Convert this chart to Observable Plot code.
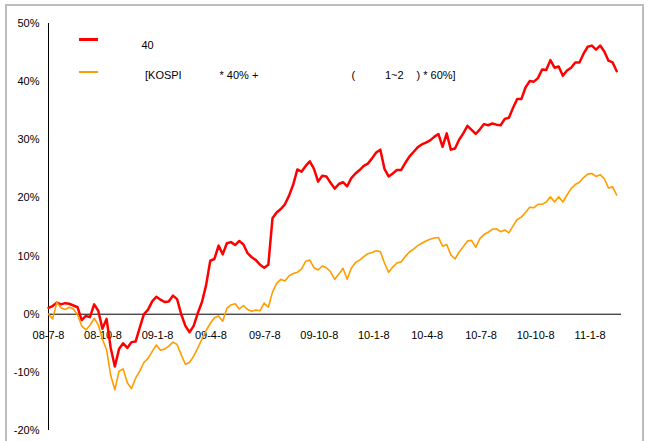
<!DOCTYPE html>
<html>
<head>
<meta charset="utf-8">
<script src="https://cdn.jsdelivr.net/npm/d3@7"></script>
<script src="https://cdn.jsdelivr.net/npm/@observablehq/plot@0.6"></script>
<style>
  html, body { margin: 0; padding: 0; background: #fff; }
  #wrap { position: relative; width: 651px; height: 441px; overflow: hidden; font-family: "Liberation Sans", Arial, sans-serif; }
  #frame { position: absolute; left: 5px; top: 4px; width: 639px; height: 460px; border: 2px solid #bdbdbd; box-sizing: border-box; }
  #chart { position: absolute; left: 0; top: 0; }
  .leg { position: absolute; font-size: 11px; line-height: 13px; color: #000; white-space: pre; }
  .sw { position: absolute; }
</style>
</head>
<body>
<div id="wrap">
  <div id="frame"></div>
  <div id="chart"></div>
</div>
<script>
// Weekly observations starting 2008-07-08 (cumulative return, %)
const startDate = "2008-07-08";
const endDate = "2011-03-02";

const fundReturn = [
  1.1, 1.4, 2.0, 1.7, 1.9, 1.8, 1.5, 1.2, -1.0, -0.3,
  -0.5, 1.7, 0.6, -2.5, -0.8, -5.8, -9.0, -6.0, -5.0, -5.8,
  -4.8, -4.7, -2.3, 0.0, 0.8, 2.2, 3.0, 2.5, 2.1, 2.2,
  3.2, 2.6, 0.0, -2.0, -3.1, -2.0, 0.2, 2.1, 5.0, 9.2,
  9.5, 11.8, 10.3, 12.2, 12.4, 11.9, 12.6, 12.0, 10.5, 9.8,
  9.3, 8.5, 8.0, 8.5, 16.5, 17.5, 18.1, 18.9, 20.4, 22.3,
  24.9, 24.5, 25.5, 26.3, 25.0, 22.8, 23.8, 23.7, 22.6, 21.6,
  22.4, 22.7, 22.0, 23.4, 24.2, 24.8, 25.5, 25.9, 26.8, 27.8,
  28.3, 25.0, 23.7, 24.2, 24.8, 24.8, 26.0, 27.1, 27.9, 28.7,
  29.2, 29.5, 29.9, 30.5, 31.0, 28.8, 31.1, 28.3, 28.5, 30.0,
  31.1, 32.4, 31.7, 31.0, 31.8, 32.7, 32.5, 32.8, 32.6, 32.5,
  33.6, 33.8, 35.5, 37.0, 37.0, 39.0, 40.1, 40.0, 40.6, 42.1,
  42.0, 43.7, 42.4, 42.6, 41.0, 41.9, 42.4, 43.3, 43.3, 44.8,
  46.0, 46.2, 45.5, 46.2, 45.2, 43.6, 43.3, 41.8
];

const benchReturn = [
  0.0, -0.8, 2.0, 1.1, 0.8, 1.2, 0.9, -0.1, -2.0, -2.7,
  -1.9, -0.7, -1.8, -4.3, -6.1, -10.5, -13.0, -9.8, -9.4, -11.8,
  -12.8, -11.0, -9.8, -8.3, -7.6, -6.4, -5.3, -6.2, -6.0, -5.5,
  -4.8, -5.2, -7.0, -8.6, -8.3, -7.2, -5.8, -4.3, -2.8, -1.6,
  -0.6, -0.3, -1.2, 1.0, 1.6, 1.8, 0.9, 1.5, 0.8, 0.5,
  0.7, 0.6, 1.9, 1.2, 3.8, 5.3, 6.0, 5.7, 6.6, 7.0,
  7.2, 7.8, 9.1, 9.3, 8.0, 7.6, 8.3, 8.0, 7.3, 6.0,
  6.9, 7.9, 6.0, 7.9, 8.9, 9.3, 9.9, 10.4, 10.6, 10.9,
  10.8, 8.8, 7.2, 8.1, 8.8, 9.0, 9.9, 10.7, 11.2, 11.8,
  12.2, 12.6, 12.9, 13.1, 13.2, 11.7, 12.0, 10.2, 9.5, 10.7,
  11.6, 12.6, 12.7, 11.5, 13.0, 13.7, 14.1, 14.6, 14.7, 14.2,
  14.5, 14.0, 15.2, 16.3, 16.7, 17.5, 18.4, 18.3, 18.9, 18.9,
  19.3, 20.2, 19.3, 20.2, 19.3, 20.5, 21.6, 22.3, 22.7, 23.5,
  24.1, 24.2, 23.7, 24.0, 23.3, 21.7, 21.9, 20.5
];

const xTickDates = ["2008-07-08","2008-10-08","2009-01-08","2009-04-08","2009-07-08","2009-10-08","2010-01-08","2010-04-08","2010-07-08","2010-10-08","2011-01-08"];
const xTickLabels = ["08-7-8","08-10-8","09-1-8","09-4-8","09-7-8","09-10-8","10-1-8","10-4-8","10-7-8","10-10-8","11-1-8"];
const yTicks = [-20, -10, 0, 10, 20, 30, 40, 50];

const seriesColors = { fund: "#ff0000", bench: "#ff9c00" };

const t0 = new Date(startDate);
const weekDate = i => d3.utcDay.offset(t0, 7 * i);
const fundData = fundReturn.map((v, i) => ({ date: weekDate(i), v }));
const benchData = benchReturn.map((v, i) => ({ date: weekDate(i), v }));
const ticks = xTickDates.map((d, i) => ({ date: new Date(d), label: xTickLabels[i] }));

const chart = Plot.plot({
  width: 651,
  height: 441,
  marginLeft: 48,
  marginRight: 30,
  marginTop: 23,
  marginBottom: 11,
  style: { fontFamily: "'Liberation Sans', Arial, sans-serif", fontSize: "11px", background: "transparent", color: "#000" },
  x: { type: "utc", domain: [new Date(startDate), new Date(endDate)], axis: null },
  y: { domain: [-20, 50], axis: null },
  marks: [
    Plot.ruleY([0], { stroke: "#000", strokeWidth: 1 }),
    Plot.ruleX([new Date(startDate)], { stroke: "#000", strokeWidth: 1 }),
    Plot.axisY(yTicks, { anchor: "left", label: null, tickSize: 0, tickPadding: 9, tickFormat: d => d + "%", fontSize: 11, fill: "#000" }),
    Plot.text(ticks, { x: "date", y: () => 0, text: "label", dy: 21, fontSize: 11, fill: "#000" }),
    Plot.line(fundData, { x: "date", y: "v", stroke: seriesColors.fund, strokeWidth: 2.5, strokeLinejoin: "round" }),
    Plot.line(benchData, { x: "date", y: "v", stroke: seriesColors.bench, strokeWidth: 1.6, strokeLinejoin: "round" })
  ]
});
document.getElementById("chart").appendChild(chart);

// Legend (inside plot area, top-left)
const wrap = document.getElementById("wrap");
const legendItems = [
  { color: seriesColors.fund, thick: 2.5, swTop: 38, textTop: 38.5, parts: [["40", 141.5]] },
  { color: seriesColors.bench, thick: 2, swTop: 70.5, textTop: 68.5, parts: [["[KOSPI", 145], ["* 40% +", 219.5], ["(", 351.5], ["1~2", 385], [") * 60%]", 416.5]] }
];
legendItems.forEach(item => {
  const sw = document.createElement("div");
  sw.className = "sw";
  Object.assign(sw.style, { left: "79px", top: item.swTop + "px", width: "19px", height: item.thick + "px", background: item.color });
  wrap.appendChild(sw);
  item.parts.forEach(([txt, left]) => {
    const s = document.createElement("div");
    s.className = "leg";
    s.textContent = txt;
    Object.assign(s.style, { left: left + "px", top: item.textTop + "px" });
    wrap.appendChild(s);
  });
});
</script>
</body>
</html>
